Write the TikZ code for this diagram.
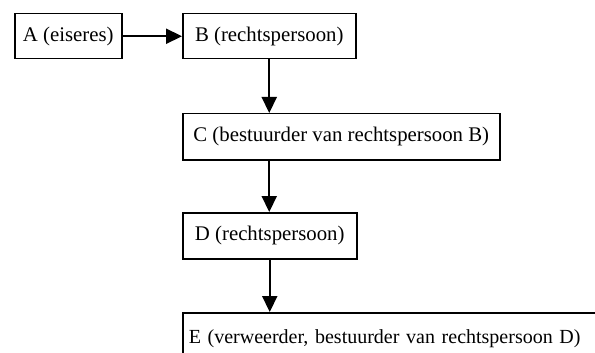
\documentclass[tikz,border=0pt]{standalone}
\usepackage{fontspec}
\setmainfont{Liberation Serif}
\usetikzlibrary{arrows.meta}
\begin{document}
\begin{tikzpicture}[x=1pt,y=1pt,
  box/.style={draw, line width=1.5pt, rectangle, anchor=north west, inner sep=0pt, font=\fontsize{20.8}{24}\selectfont},
  arr/.style={line width=2.2pt, -{Triangle[length=16pt,width=15pt]}}]
\useasboundingbox (0,0) rectangle (595,-353);
\clip (0,0) rectangle (595,-353);
\node[box, minimum width=107pt, minimum height=45pt] (A) at (14,-13) {A (eiseres)};
\node[box, minimum width=173pt, minimum height=45pt] (B) at (182,-13) {B (rechtspersoon)};
\node[box, minimum width=317pt, minimum height=46pt] (C) at (182,-113) {C (bestuurder van rechtspersoon B)};
\node[box, minimum width=174pt, minimum height=46pt] (D) at (182,-212) {D (rechtspersoon)};
\node[box, minimum height=70pt, text width=440pt, align=left, anchor=north west, font=\fontsize{20}{24}\selectfont] (E) at (182,-312) {\hspace*{6pt}\raisebox{23pt}{E (verweerder, bestuurder van rechtspersoon D)}};
\draw[arr] (A.east) -- (B.west);
\draw[arr] (B.south) -- (C.north -| B.south);
\draw[arr] (C.south -| B.south) -- (D.north -| B.south);
\draw[arr] (D.south) -- (E.north -| D.south);
\end{tikzpicture}
\end{document}
